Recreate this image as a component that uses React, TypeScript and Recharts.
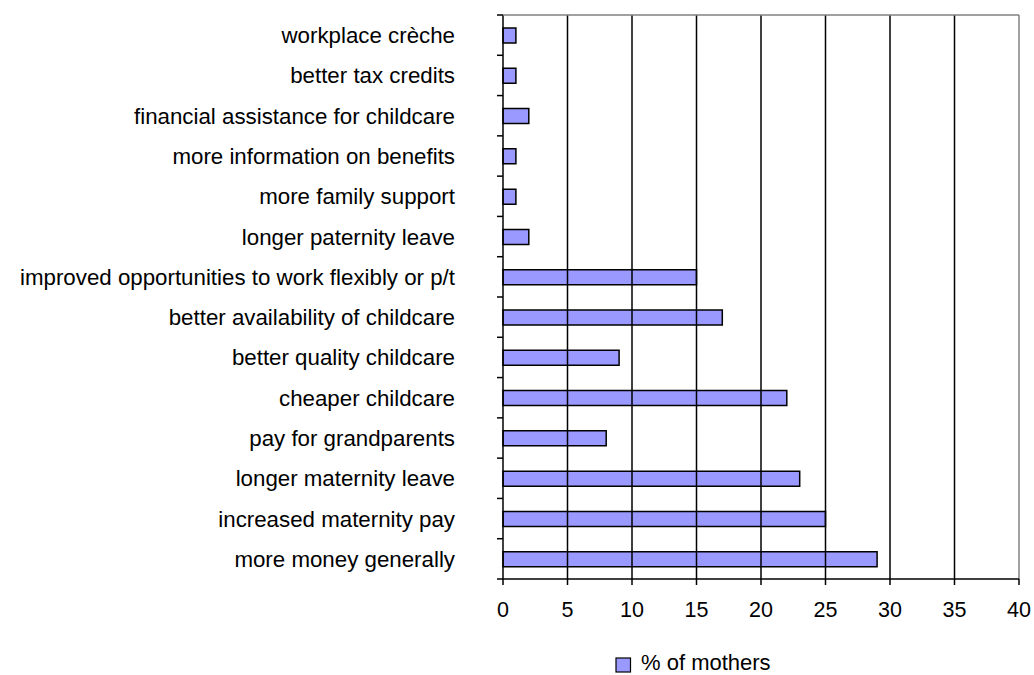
import { BarChart, Bar, XAxis, YAxis, ReferenceLine } from 'recharts';

const categories = [
  'workplace crèche',
  'better tax credits',
  'financial assistance for childcare',
  'more information on benefits',
  'more family support',
  'longer paternity leave',
  'improved opportunities to work flexibly or p/t',
  'better availability of childcare',
  'better quality childcare',
  'cheaper childcare',
  'pay for grandparents',
  'longer maternity leave',
  'increased maternity pay',
  'more money generally'
];

const mothers = [1, 1, 2, 1, 1, 2, 15, 17, 9, 22, 8, 23, 25, 29];

const xTicks = [0, 5, 10, 15, 20, 25, 30, 35, 40];

const seriesName = '% of mothers';

const data = categories.map((name, i) => ({ name, value: mothers[i] }));

const W = 1034;
const H = 675;
const XAXIS_H = 30;
const MARGIN = { top: 15, right: 15, bottom: 96 - XAXIS_H, left: 0 };
const YAXIS_W = 503;
const PLOT_H = H - MARGIN.top - MARGIN.bottom - XAXIS_H;
const BAND = PLOT_H / categories.length;
const FONT = '"Liberation Sans", Arial, sans-serif';

const CategoryTick = ({ y, payload, index }: any) => {
  const axisX = MARGIN.left + YAXIS_W;
  const half = BAND / 2;
  return (
    <g>
      <line x1={axisX - 6} x2={axisX} y1={y - half} y2={y - half} stroke="#000" strokeWidth={1.5} />
      {index === categories.length - 1 && (
        <line x1={axisX - 6} x2={axisX} y1={y + half} y2={y + half} stroke="#000" strokeWidth={1.5} />
      )}
      <text
        x={axisX - 48}
        y={y}
        dy="0.36em"
        textAnchor="end"
        fontSize={22.3}
        fontFamily={FONT}
        fill="#000"
      >
        {payload.value}
      </text>
    </g>
  );
};

export default function App() {
  return (
    <div style={{ position: 'absolute', left: 0, top: 0, width: W, height: H, background: '#fff', overflow: 'hidden' }}>
      <BarChart width={W} height={H} data={data} layout="vertical" margin={MARGIN}>
        {xTicks.slice(1, -1).map((t) => (
          <ReferenceLine key={t} x={t} stroke="#000" strokeWidth={1.5} />
        ))}
        <ReferenceLine x={40} stroke="#808080" strokeWidth={1.5} />
        <XAxis
          type="number"
          domain={[0, 40]}
          ticks={xTicks}
          interval={0}
          height={XAXIS_H}
          axisLine={{ stroke: '#000', strokeWidth: 1.5 }}
          tickLine={{ stroke: '#000', strokeWidth: 1.5 }}
          tickSize={6}
          tickMargin={17}
          tick={{ fill: '#000', fontSize: 21.5, fontFamily: FONT }}
        />
        <YAxis
          type="category"
          dataKey="name"
          width={YAXIS_W}
          interval={0}
          axisLine={{ stroke: '#000', strokeWidth: 1.5 }}
          tickLine={false}
          tick={<CategoryTick />}
        />
        <Bar
          dataKey="value"
          name={seriesName}
          fill="#9999FF"
          stroke="#000"
          strokeWidth={1.5}
          barSize={15}
          isAnimationActive={false}
        />
      </BarChart>
      <svg style={{ position: 'absolute', left: 0, top: 0, pointerEvents: 'none' }} width={W} height={H}>
        <line
          x1={MARGIN.left + YAXIS_W}
          x2={W - MARGIN.right}
          y1={MARGIN.top}
          y2={MARGIN.top}
          stroke="#808080"
          strokeWidth={1.5}
        />
      </svg>
      <div
        style={{
          position: 'absolute',
          left: 615,
          top: 653,
          height: 20,
          lineHeight: '20px',
          display: 'flex',
          alignItems: 'center',
          fontFamily: FONT,
          fontSize: 22,
          color: '#000',
          whiteSpace: 'nowrap'
        }}
      >
        <svg width={17} height={17} style={{ marginRight: 9, marginTop: 4 }}>
          <rect x={1} y={1} width={14.5} height={14} fill="#9999FF" stroke="#000" strokeWidth={1.2} />
        </svg>
        <span>{seriesName}</span>
      </div>
    </div>
  );
}
